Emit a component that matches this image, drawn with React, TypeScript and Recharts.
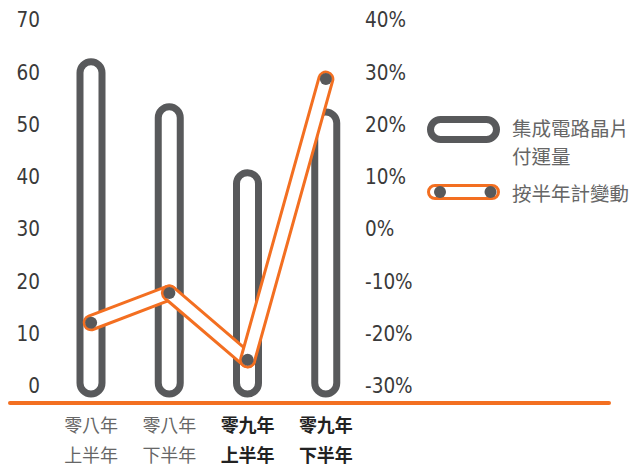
import React from 'react';
import { ComposedChart, Bar, Line, XAxis, YAxis } from 'recharts';

const categories = ['零八年上半年', '零八年下半年', '零九年上半年', '零九年下半年'];
const shipments = [62, 53.4, 40.8, 52.4];
const halfYearChange = [-17.9, -12.2, -25.0, 28.7];
const leftTicks = [0, 10, 20, 30, 40, 50, 60, 70];
const rightTicks = [-30, -20, -10, 0, 10, 20, 30, 40];
const legendBar = ['集成電路晶片', '付運量'];
const legendLine = '按半年計變動';

const GRAY = '#58595b';
const ORANGE = '#f36f21';
const NUM_FONT = '"Liberation Sans Narrow", "DejaVu Sans Condensed", Roboto, sans-serif';
const CJK_FONT = '"Noto Sans CJK TC", "Noto Sans CJK SC", sans-serif';

const data = categories.map((c, i) => ({
  name: c,
  shipments: shipments[i],
  change: halfYearChange[i],
}));

// outlined pill, running a little past the baseline
const PillBar = (props: any) => {
  const { x, y, width, height } = props;
  if (x == null || y == null) return null;
  const h = height + 8;
  return (
    <rect x={x} y={y} width={width} height={h} rx={width / 2} ry={width / 2}
      fill="#fff" stroke={GRAY} strokeWidth={7} />
  );
};

// each segment drawn as its own orange capsule, then the gray point
const CapsuleDot = (props: any) => {
  const { cx, cy, index, points } = props;
  const next = points && points[index + 1];
  return (
    <g key={`cap-${index}`}>
      {next && (
        <>
          <line x1={cx} y1={cy} x2={next.x} y2={next.y} stroke={ORANGE} strokeWidth={17} strokeLinecap="round" />
          <line x1={cx} y1={cy} x2={next.x} y2={next.y} stroke="#fff" strokeWidth={11} strokeLinecap="round" />
        </>
      )}
      <circle cx={cx} cy={cy} r={6} fill={GRAY} />
    </g>
  );
};

const CategoryTick = (props: any) => {
  const { x, y, payload } = props;
  const label: string = payload.value;
  const bold = label.startsWith('零九');
  return (
    <text x={x} y={y} textAnchor="middle" fontFamily={CJK_FONT} fontSize={18}
      fontWeight={bold ? 700 : 400} fill={bold ? '#222' : '#666'}>
      <tspan x={x} dy={44}>{label.slice(0, 3)}</tspan>
      <tspan x={x} dy={30}>{label.slice(3)}</tspan>
    </text>
  );
};

const tickStyle = { fontFamily: NUM_FONT, fontSize: 20.5, fill: '#3a3a3a' };

export default function App() {
  return (
    <div style={{ position: 'absolute', left: 0, top: 0, width: 639, height: 466, background: '#fff' }}>
      <ComposedChart width={639} height={466} data={data}
        margin={{ top: 20, right: 0, bottom: 0, left: 0 }} barCategoryGap="10%">
        <XAxis dataKey="name" height={80} axisLine={false} tickLine={false} tickSize={0}
          tick={<CategoryTick />} interval={0} />
        <YAxis yAxisId="left" width={52} domain={[0, 70]} ticks={leftTicks} axisLine={false}
          tickLine={false} tickSize={0} tickMargin={12} tick={tickStyle} />
        <YAxis yAxisId="right" orientation="right" width={274} domain={[-30, 40]} ticks={rightTicks}
          axisLine={false} tickLine={false} tickSize={0} tickMargin={0} tick={{ ...tickStyle, textAnchor: 'start' }}
          tickFormatter={(v: number) => `${v}%`} />
        <Bar yAxisId="left" dataKey="shipments" barSize={22} shape={<PillBar />} isAnimationActive={false} />
        <Line yAxisId="right" dataKey="change" stroke="none" dot={<CapsuleDot />} activeDot={false}
          isAnimationActive={false} />
      </ComposedChart>

      <div style={{ position: 'absolute', left: 8, top: 401, width: 603, height: 4, borderRadius: 2, background: ORANGE }} />

      <div style={{ position: 'absolute', left: 427, top: 112, fontFamily: CJK_FONT, fontSize: 19.5, color: '#666' }}>
        <div style={{ display: 'flex', alignItems: 'flex-start' }}>
          <svg width={74} height={32} style={{ flex: 'none' }}>
            <rect x={3.5} y={7.5} width={66} height={20} rx={10} fill="#fff" stroke={GRAY} strokeWidth={7} />
          </svg>
          <div style={{ marginLeft: 11, marginTop: 2, lineHeight: '28px' }}>
            {legendBar[0]}<br />{legendBar[1]}
          </div>
        </div>
        <div style={{ display: 'flex', alignItems: 'center', marginTop: 9 }}>
          <svg width={74} height={20} style={{ flex: 'none' }}>
            <rect x={1.5} y={2.5} width={70} height={13} rx={6.5} fill="#fff" stroke={ORANGE} strokeWidth={3} />
            <circle cx={13} cy={9} r={6} fill={GRAY} />
            <circle cx={63.5} cy={9} r={6} fill={GRAY} />
          </svg>
          <div style={{ marginLeft: 11, lineHeight: '28px' }}>{legendLine}</div>
        </div>
      </div>
    </div>
  );
}
